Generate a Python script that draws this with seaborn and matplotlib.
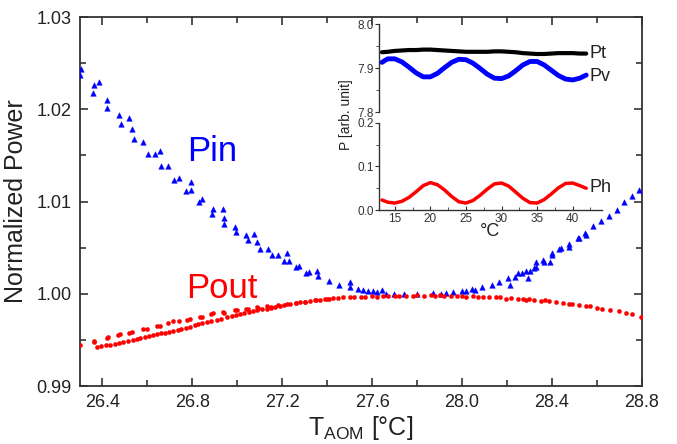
import numpy as np
import pandas as pd
import matplotlib
matplotlib.use("Agg")
import matplotlib.pyplot as plt
import seaborn as sns
from matplotlib.ticker import MultipleLocator, FormatStrFormatter

# main panel: normalized power vs AOM temperature
pin_t = [26.301, 26.305, 26.360, 26.363, 26.385, 26.421, 26.422, 26.474, 26.483, 26.520,
         26.530, 26.542, 26.583, 26.601, 26.636, 26.657, 26.660, 26.690, 26.718, 26.742,
         26.774, 26.794, 26.795, 26.832, 26.844, 26.887, 26.893, 26.936, 26.941, 26.943,
         26.992, 26.995, 27.039, 27.049, 27.076, 27.086, 27.102, 27.135, 27.153, 27.181,
         27.209, 27.220, 27.230, 27.261, 27.274, 27.308, 27.320, 27.357, 27.360, 27.409,
         27.453, 27.501, 27.502, 27.539, 27.560, 27.582, 27.604, 27.624, 27.644, 27.664,
         27.697, 27.740, 27.800, 27.870, 27.908, 27.930, 27.960, 28.000, 28.020, 28.044,
         28.060, 28.088, 28.132, 28.165, 28.203, 28.214, 28.236, 28.250, 28.267, 28.286,
         28.295, 28.302, 28.319, 28.329, 28.330, 28.362, 28.366, 28.391, 28.400, 28.402,
         28.433, 28.440, 28.474, 28.476, 28.514, 28.520, 28.547, 28.550, 28.584, 28.618,
         28.655, 28.689, 28.721, 28.758, 28.788]
pin_p = [1.0237, 1.0244, 1.0218, 1.0226, 1.0230, 1.0210, 1.0201, 1.0194, 1.0184, 1.0191,
         1.0179, 1.0168, 1.0165, 1.0152, 1.0151, 1.0155, 1.0138, 1.0138, 1.0123, 1.0125,
         1.0111, 1.0113, 1.0121, 1.0099, 1.0103, 1.0087, 1.0092, 1.0092, 1.0076, 1.0082,
         1.0072, 1.0067, 1.0064, 1.0058, 1.0065, 1.0056, 1.0049, 1.0049, 1.0042, 1.0042,
         1.0035, 1.0044, 1.0035, 1.0029, 1.0030, 1.0023, 1.0024, 1.0025, 1.0019, 1.0014,
         1.0010, 1.0013, 1.0007, 1.0005, 1.0004, 1.0003, 1.0003, 1.0002, 1.0004, 1.0000,
         1.0000, 1.0000, 1.0000, 1.0001, 1.0000, 1.0001, 1.0002, 1.0003, 1.0003, 1.0005,
         1.0004, 1.0007, 1.0010, 1.0013, 1.0017, 1.0010, 1.0018, 1.0022, 1.0022, 1.0025,
         1.0017, 1.0025, 1.0028, 1.0034, 1.0029, 1.0037, 1.0034, 1.0034, 1.0042, 1.0044,
         1.0048, 1.0050, 1.0051, 1.0054, 1.0060, 1.0060, 1.0066, 1.0064, 1.0073, 1.0079,
         1.0084, 1.0091, 1.0099, 1.0106, 1.0112]

pout_t = [26.300, 26.361, 26.365, 26.421, 26.423, 26.471, 26.480, 26.518, 26.532, 26.583,
          26.600, 26.641, 26.657, 26.693, 26.716, 26.742, 26.776, 26.789, 26.834, 26.845,
          26.885, 26.894, 26.937, 26.940, 26.989, 26.998, 27.040, 27.049, 27.089, 27.094,
          27.131, 27.150, 27.180, 27.220, 27.260, 27.300, 27.350, 27.400,
          26.376, 26.395, 26.415, 26.435, 26.455, 26.475, 26.494, 26.515, 26.535, 26.552,
          26.569, 26.588, 26.606, 26.625, 26.643, 26.660, 26.680, 26.697, 26.716, 26.735,
          26.752, 26.770, 26.790, 26.810, 26.827, 26.845, 26.865, 26.885, 26.910, 26.930,
          26.953, 26.975, 26.993, 27.012, 27.032, 27.052, 27.071, 27.090, 27.110, 27.131,
          27.150, 27.170, 27.190, 27.210, 27.235, 27.260, 27.279, 27.300, 27.325, 27.345,
          27.367, 27.390, 27.410, 27.427,
          27.450, 27.470, 27.500, 27.520, 27.550, 27.570, 27.600, 27.620, 27.650, 27.670,
          27.700, 27.720, 27.750, 27.780, 27.800, 27.830, 27.860, 27.880, 27.900, 27.920,
          27.950, 27.980, 28.000, 28.020, 28.050, 28.070, 28.092, 28.120, 28.150, 28.170,
          28.196, 28.220, 28.250, 28.270, 28.285, 28.300, 28.320, 28.350, 28.370, 28.388,
          28.420, 28.450, 28.477, 28.490, 28.520, 28.551, 28.570, 28.600, 28.625, 28.660,
          28.699, 28.730, 28.758, 28.795]
pout_p = [0.9944, 0.9948, 0.9949, 0.9952, 0.9953, 0.9955, 0.9956, 0.9957, 0.9959, 0.9962,
          0.9962, 0.9965, 0.9965, 0.9968, 0.9970, 0.9970, 0.9972, 0.9973, 0.9975, 0.9975,
          0.9978, 0.9979, 0.9980, 0.9979, 0.9982, 0.9982, 0.9983, 0.9983, 0.9986, 0.9985,
          0.9987, 0.9986, 0.9988, 0.9989, 0.9990, 0.9991, 0.9993, 0.9994,
          0.9942, 0.9943, 0.9944, 0.9945, 0.9946, 0.9947, 0.9948, 0.9949, 0.9950, 0.9951,
          0.9952, 0.9953, 0.9954, 0.9955, 0.9956, 0.9957, 0.9958, 0.9959, 0.9960, 0.9961,
          0.9962, 0.9963, 0.9964, 0.9966, 0.9967, 0.9968, 0.9969, 0.9970, 0.9972, 0.9973,
          0.9975, 0.9976, 0.9977, 0.9978, 0.9979, 0.9980, 0.9981, 0.9982, 0.9983, 0.9984,
          0.9985, 0.9986, 0.9987, 0.9988, 0.9989, 0.9990, 0.9991, 0.9991, 0.9992, 0.9993,
          0.9993, 0.9994, 0.9994, 0.9995,
          0.9995, 0.9996, 0.9996, 0.9997, 0.9997, 0.9997, 0.9998, 0.9997, 0.9998, 0.9998,
          0.9998, 0.9998, 0.9998, 0.9998, 0.9999, 0.9998, 0.9999, 0.9998, 0.9999, 0.9998,
          0.9998, 0.9998, 0.9998, 0.9997, 0.9998, 0.9997, 0.9996, 0.9997, 0.9996, 0.9996,
          0.9994, 0.9995, 0.9994, 0.9994, 0.9993, 0.9994, 0.9993, 0.9992, 0.9993, 0.9992,
          0.9991, 0.9990, 0.9989, 0.9989, 0.9988, 0.9987, 0.9987, 0.9985, 0.9983, 0.9982,
          0.9981, 0.9979, 0.9978, 0.9975]

# inset: absolute powers vs temperature
ins_t = [13.2, 14, 15, 16, 17, 18, 19, 20, 21, 22, 23, 24, 25, 26, 27, 28, 29, 30,
         31, 32, 33, 34, 35, 36, 37, 38, 39, 40, 41, 41.9]
pt_vals = [7.936, 7.937, 7.939, 7.940, 7.941, 7.941, 7.942, 7.942, 7.941, 7.940,
           7.939, 7.938, 7.937, 7.937, 7.937, 7.937, 7.938, 7.938, 7.937, 7.936,
           7.934, 7.933, 7.932, 7.932, 7.933, 7.934, 7.934, 7.934, 7.933, 7.933]
pv_vals = [7.913, 7.921, 7.921, 7.914, 7.902, 7.889, 7.880, 7.880, 7.888, 7.901,
           7.913, 7.920, 7.919, 7.911, 7.899, 7.886, 7.877, 7.876, 7.882, 7.894,
           7.907, 7.915, 7.915, 7.907, 7.895, 7.883, 7.875, 7.873, 7.877, 7.884]
ph_vals = [0.023, 0.018, 0.016, 0.020, 0.029, 0.042, 0.056, 0.063, 0.058, 0.046,
           0.031, 0.019, 0.016, 0.022, 0.034, 0.048, 0.060, 0.062, 0.055, 0.041,
           0.027, 0.017, 0.016, 0.024, 0.037, 0.051, 0.061, 0.062, 0.056, 0.050]

sns.set_style("ticks")
plt.rcParams['font.family'] = ['Liberation Sans', 'DejaVu Sans']
plt.rcParams['mathtext.default'] = 'regular'

BLUE = '#0000ff'
RED = '#ff0000'
EDGE = '#333333'

fig = plt.figure(figsize=(6.77, 4.44), dpi=100)
ax = fig.add_axes([0.118, 0.1306, 0.830, 0.831])

pin_df = pd.DataFrame({'T': pin_t, 'P': pin_p})
pout_df = pd.DataFrame({'T': pout_t, 'P': pout_p})
sns.scatterplot(data=pin_df, x='T', y='P', ax=ax, marker='^', s=16, color=BLUE,
                edgecolor=BLUE, linewidth=0.3, zorder=3)
sns.scatterplot(data=pout_df, x='T', y='P', ax=ax, marker='o', s=9, color=RED,
                edgecolor=RED, linewidth=0.3, zorder=4)

ax.set_xlim(26.3, 28.8)
ax.set_ylim(0.99, 1.03)
ax.xaxis.set_major_locator(MultipleLocator(0.4))
ax.xaxis.set_minor_locator(MultipleLocator(0.2))
ax.yaxis.set_major_locator(MultipleLocator(0.01))
ax.yaxis.set_minor_locator(MultipleLocator(0.005))
ax.xaxis.set_major_formatter(FormatStrFormatter('%.1f'))
ax.yaxis.set_major_formatter(FormatStrFormatter('%.2f'))
ax.tick_params(which='both', direction='in', top=True, right=True, color=EDGE,
               width=1.2, labelsize=13, labelcolor='#222222', pad=6)
ax.tick_params(which='major', length=6)
ax.tick_params(which='minor', length=4)
for sp in ax.spines.values():
    sp.set_linewidth(1.3)
    sp.set_color(EDGE)
    sp.set_visible(True)

ax.set_xlabel(r'T$_{AOM}$ [°C]', fontsize=18, color='#222222', labelpad=2)
ax.set_ylabel('Normalized Power', fontsize=18, color='#222222', labelpad=6)
ax.text(26.89, 1.0154, 'Pin', color=BLUE, fontsize=25, ha='center', va='center')
ax.text(26.93, 1.0006, 'Pout', color=RED, fontsize=25, ha='center', va='center')

# inset, upper part (Pt, Pv) and lower part (Ph)
ax_top = fig.add_axes([0.560, 0.7477, 0.329, 0.198], facecolor='none')
ax_bot = fig.add_axes([0.560, 0.527, 0.329, 0.196], facecolor='none')

ins_df = pd.DataFrame({'T': ins_t, 'Pt': pt_vals, 'Pv': pv_vals, 'Ph': ph_vals})
sns.lineplot(data=ins_df, x='T', y='Pt', ax=ax_top, color='black', linewidth=3,
             sort=False, estimator=None)
sns.lineplot(data=ins_df, x='T', y='Pv', ax=ax_top, color=BLUE, linewidth=3.5,
             sort=False, estimator=None)
sns.lineplot(data=ins_df, x='T', y='Ph', ax=ax_bot, color=RED, linewidth=2.5,
             sort=False, estimator=None)

for a in (ax_top, ax_bot):
    a.set_xlim(12.8, 44.1)
    a.xaxis.set_major_locator(MultipleLocator(5))
    a.xaxis.set_minor_locator(MultipleLocator(2.5))
    a.yaxis.set_minor_locator(MultipleLocator(0.05))
    a.spines['top'].set_visible(False)
    a.spines['right'].set_visible(False)
    a.spines['left'].set_linewidth(1.0)
    a.spines['left'].set_color(EDGE)
    a.set_xlabel('')
    a.set_ylabel('')
    a.tick_params(axis='y', which='both', direction='out', labelsize=8.5,
                  color=EDGE, pad=1, labelcolor='#333333')
    a.tick_params(axis='y', which='major', length=3)
    a.tick_params(axis='y', which='minor', length=2)

ax_top.set_ylim(7.8, 8.0)
ax_top.yaxis.set_major_locator(MultipleLocator(0.1))
ax_top.yaxis.set_major_formatter(FormatStrFormatter('%.1f'))
ax_top.spines['bottom'].set_visible(False)
ax_top.tick_params(axis='x', which='both', bottom=False, labelbottom=False)

ax_bot.set_ylim(0.0, 0.2)
ax_bot.yaxis.set_major_locator(MultipleLocator(0.1))
ax_bot.yaxis.set_major_formatter(FormatStrFormatter('%.1f'))
ax_bot.spines['bottom'].set_linewidth(1.0)
ax_bot.spines['bottom'].set_color(EDGE)
ax_bot.tick_params(axis='x', which='both', direction='in', labelsize=8.5,
                   color=EDGE, pad=2, labelcolor='#333333')
ax_bot.tick_params(axis='x', which='major', length=3)
ax_bot.tick_params(axis='x', which='minor', length=2)
ax_bot.set_xlabel('°C', fontsize=13, color='#222222', labelpad=-1)

ax_top.text(42.3, 7.934, 'Pt', fontsize=13, va='center', ha='left', color='#222222')
ax_top.text(42.3, 7.881, 'Pv', fontsize=13, va='center', ha='left', color='#222222')
ax_bot.text(42.3, 0.052, 'Ph', fontsize=13, va='center', ha='left', color='#222222')
fig.text(0.511, 0.742, 'P [arb. unit]', rotation=90, fontsize=10,
         ha='center', va='center', color='#222222')

fig.savefig('out.png', dpi=100)
plt.close(fig)
